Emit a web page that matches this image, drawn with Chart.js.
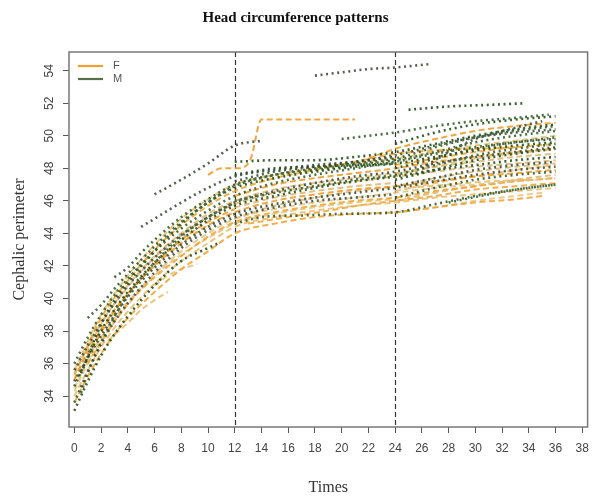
<!DOCTYPE html>
<html>
<head>
<meta charset="utf-8">
<script src="https://cdn.jsdelivr.net/npm/chart.js@4.4.1/dist/chart.umd.min.js"></script>
<style>
  html, body { margin: 0; padding: 0; background: #fff; }
</style>
</head>
<body>
<canvas id="chart" width="597" height="499"></canvas>
<script>
// axis ticks and limits
const xTickValues = [0,2,4,6,8,10,12,14,16,18,20,22,24,26,28,30,32,34,36,38];
const yTickValues = [34,36,38,40,42,44,46,48,50,52,54];
const markerTimes = [12, 24];

// one curve per child: [time (months), head circumference (cm)]
const femaleCurves = [
  [[0,33.6],[1,35.2],[2,36.6],[3,37.8],[4,38.8],[6,40.4],[8,41.8],[10,42.9],[12,44.0],[15,44.6],[18,45.0],[21,45.2],[24,45.3],[27,45.6],[30,45.9],[33,46.1],[35,46.3]],
  [[0,34.0],[1,35.6],[2,37.0],[3,38.2],[4,39.2],[6,40.9],[8,42.3],[10,43.4],[12,44.4],[15,45.0],[18,45.4],[21,45.7],[24,45.9],[27,46.2],[30,46.4],[33,46.6],[36,46.8]],
  [[0,34.5],[1,36.2],[2,37.6],[3,38.8],[4,39.8],[6,41.5],[8,42.9],[10,44.0],[12,44.9],[15,45.5],[18,45.9],[21,46.2],[24,46.5],[27,46.8],[30,47.0],[33,47.2],[36,47.4]],
  [[0,35.0],[1,36.7],[2,38.1],[3,39.3],[4,40.3],[6,42.0],[8,43.4],[10,44.5],[12,45.3],[15,46.0],[18,46.4],[21,46.7],[24,46.9],[27,47.2],[30,47.5],[33,47.7],[36,47.9]],
  [[0,35.4],[2,38.5],[4,40.7],[6,42.5],[8,43.9],[10,45.0],[12,45.8],[15,46.5],[18,46.9],[21,47.2],[24,47.5],[27,47.8],[30,48.1],[33,48.3],[36,48.5]],
  [[1,36.0],[2,37.3],[3,38.6],[4,39.7],[6,41.3],[8,42.6],[10,43.8],[12,44.7],[15,45.3],[18,45.7],[21,46.0],[24,46.2],[27,46.6],[30,46.9],[33,47.2],[36,47.4]],
  [[2.5,37.4],[4,38.5],[5,39.3],[6,39.9],[7,40.4]],
  [[6,40.8],[7,41.4],[8,41.8],[9.2,42.1]],
  [[10,47.6],[11,48.0],[12.3,48.0],[13.2,48.6],[14,51.0],[21,51.0]],
  [[0,35.0],[1,36.9],[2,38.4],[3,39.7],[4,40.8],[6,42.6],[8,44.0],[10,45.2],[12,46.0],[15,46.7],[18,47.1],[21,47.4],[24,47.7],[27,48.1],[30,48.4],[33,48.7],[36,48.9]],
  [[0,35.3],[2,38.8],[4,41.1],[6,43.0],[8,44.5],[10,45.7],[12,46.6],[15,47.4],[18,47.9],[21,48.4],[24,48.9],[27,49.1],[30,49.2],[33,49.3]],
  [[0,35.6],[2,39.0],[4,41.4],[6,43.3],[8,44.9],[10,46.1],[12,47.0],[15,47.6],[18,48.0],[21,48.3],[24,48.6],[27,49.0],[30,49.4],[33,49.7],[36,50.0]],
  [[24,45.3],[27,45.6],[30,46.0],[33,46.3],[35,46.5]],
  [[22,48.6],[24,49.2],[27,49.8],[30,50.3],[33,50.6],[36,50.8]],
  [[12,45.6],[15,46.2],[18,46.6],[21,46.9],[24,47.1]],
  [[13,44.6],[16,45.0],[19,45.4],[22,45.8],[24,46.0],[27,46.3],[30,46.7],[33,46.9],[36,47.1]],
  [[24,46.6],[27,47.1],[30,47.5],[33,47.9],[36,48.2]],
  [[24,47.6],[27,48.1],[30,48.6],[33,48.9],[36,49.2]],
  [[1,36.4],[2,37.9],[3,39.2],[4,40.3],[6,42.1],[8,43.6],[10,44.7],[12,45.5]],
  [[12,44.9],[15,45.7],[18,46.2],[21,46.6],[24,46.9],[27,47.4],[30,47.8],[33,48.1],[36,48.3]],
  [[24,48.2],[27,48.6],[30,49.0],[33,49.3],[36,49.5]],
  [[25,46.8],[28,47.0],[31,47.2],[34,47.3]],
  [[0,34.3],[1,36.0],[2,37.4],[4,39.6],[6,41.4],[8,42.7],[10,43.7],[12,44.6],[15,45.2],[18,45.6],[21,45.9],[24,46.1]],
  [[12,46.3],[15,47.0],[18,47.4],[21,47.7],[24,48.0],[27,48.4],[30,48.7],[33,49.0],[36,49.2]],
  [[24,46.0],[27,46.5],[30,46.9],[33,47.3],[36,47.6]]
];

const maleCurves = [
  [[0,33.1],[1,34.9],[2,36.5],[3,37.8],[4,38.9],[6,40.8],[8,42.3],[10,43.1],[10.8,43.4]],
  [[0,36.0],[1,37.6],[2,39.0],[3,40.2],[4,41.2],[6,42.9],[8,44.3],[10,45.4],[12,46.3],[15,47.1],[18,47.6],[21,48.0],[24,48.4],[27,48.9],[30,49.3],[33,49.6],[36,49.9]],
  [[0,35.6],[1,37.1],[2,38.5],[3,39.7],[4,40.8],[6,42.5],[8,43.9],[10,45.0],[12,45.9],[15,46.6],[18,47.1],[21,47.5],[24,47.8],[27,48.3],[30,48.7],[33,49.0],[36,49.3]],
  [[0,34.6],[1,36.4],[2,38.0],[3,39.3],[4,40.4],[6,42.2],[8,43.6],[10,44.8],[12,45.7],[15,46.3],[18,46.8],[21,47.2],[24,47.5],[27,47.9],[30,48.2],[33,48.5],[36,48.7]],
  [[1,38.8],[2,39.6],[3,40.6],[4,41.5],[6,43.2],[8,44.7],[10,45.9],[12,46.9],[15,47.6],[18,48.0],[21,48.3],[24,48.6],[27,49.3],[30,49.9],[33,50.3],[36,50.6]],
  [[6,46.4],[8,47.3],[10,48.3],[12,49.4],[14,49.7]],
  [[12,48.4],[15,48.5],[18,48.5],[21,48.7],[24,49.0],[27,49.5],[30,50.0],[33,50.4],[36,50.7]],
  [[20,49.8],[22,50.0],[24,50.2],[27,50.6],[30,50.9],[33,51.1],[35.5,51.3]],
  [[18,53.7],[20,53.9],[22,54.1],[24,54.2],[26.5,54.4]],
  [[25,51.6],[28,51.8],[31,51.9],[33.7,52.0]],
  [[12,44.6],[14,45.0],[17,45.1],[20,45.2],[24,45.3],[27,45.8],[30,46.3],[33,46.7],[36,47.0]],
  [[0,34.9],[2,37.7],[4,40.1],[6,41.9],[8,43.3],[10,44.4],[12,45.2],[15,45.8],[18,46.2],[21,46.5],[24,46.8],[27,47.2],[30,47.6],[33,47.9],[36,48.1]],
  [[0.5,35.4],[2,38.4],[3,39.9],[4,41.0],[6,42.9],[8,44.6],[10,45.9],[12,46.8],[15,47.4],[18,47.8],[21,48.1],[24,48.3],[27,48.7],[30,49.1],[33,49.4],[36,49.6]],
  [[3,41.3],[4,41.9],[5,42.8],[6,43.6],[8,45.0],[10,46.1],[12,47.0],[15,47.6],[18,47.9],[21,48.2],[24,48.5],[27,49.0],[30,49.6],[33,50.0],[36,50.3]],
  [[5,44.4],[6,44.9],[8,45.9],[10,46.8],[12,47.5],[15,47.9],[18,48.2],[21,48.4],[24,48.7]],
  [[24,47.3],[27,47.9],[30,48.5],[33,48.9],[36,49.2]],
  [[24,46.2],[27,46.8],[30,47.3],[33,47.6],[36,47.8]],
  [[26,48.0],[28,49.0],[30,49.8],[33,50.5],[35,50.9]],
  [[12,47.6],[15,48.0],[18,48.1],[21,48.2],[24,48.3]],
  [[12,46.0],[15,46.5],[18,46.9],[21,47.3],[24,47.6],[27,48.2],[30,48.8],[33,49.2],[36,49.5]],
  [[0,33.6],[1,35.5],[2,37.2],[3,38.6],[4,39.7],[6,41.6],[8,43.1],[10,44.2],[12,45.0],[15,45.6],[18,46.0],[21,46.2],[24,46.4]],
  [[24,49.5],[27,50.2],[30,50.7],[33,51.0],[36,51.2]],
  [[28,45.9],[31,46.4],[34,46.8],[36,47.0]],
  [[12,47.2],[15,47.8],[18,48.1],[21,48.4],[24,48.8],[27,49.4],[30,49.9],[33,50.2],[36,50.4]],
  [[24,48.0],[27,48.6],[30,49.2],[33,49.6],[36,49.8]],
  [[0.5,34.2],[1,35.4],[2,37.3],[3,38.9],[4,40.2],[6,42.2],[8,43.8],[10,45.0],[12,45.9]],
  [[24,46.9],[27,47.4],[30,47.9],[33,48.2],[36,48.4]]
];

const fColors = ["rgba(240,160,40,0.85)","rgba(228,182,96,0.8)","rgba(224,192,124,0.8)","rgba(238,150,30,0.85)","rgba(218,176,102,0.8)"];
const mColors = ["rgba(38,80,24,0.9)","rgba(52,92,38,0.88)","rgba(58,76,54,0.88)"];
const legendF = "#F0A030";
const legendM = "#557045";

const toPoints = c => c.map(([x, y]) => ({ x, y }));

const datasets = [];
maleCurves.forEach((c, i) => datasets.push({
  label: "M",
  data: toPoints(c),
  borderColor: mColors[i % mColors.length],
  borderWidth: 2.6,
  borderDash: [2, 3.6],
  pointRadius: 0,
  cubicInterpolationMode: "monotone",
  fill: false
}));
femaleCurves.forEach((c, i) => datasets.push({
  label: "F",
  data: toPoints(c),
  borderColor: fColors[i % fColors.length],
  borderWidth: 2,
  borderDash: [6, 3.5],
  pointRadius: 0,
  cubicInterpolationMode: "monotone",
  fill: false
}));

// dashed vertical reference lines, box and legend
const decor = {
  id: "decor",
  beforeDatasetsDraw(chart){
    const {ctx, chartArea: a, scales: {x}} = chart;
    ctx.save();
    ctx.strokeStyle = "#333";
    ctx.lineWidth = 1.2;
    ctx.setLineDash([5, 3]);
    markerTimes.forEach(t=>{
      const px = Math.round(x.getPixelForValue(t)) + 0.5;
      ctx.beginPath();
      ctx.moveTo(px, a.top);
      ctx.lineTo(px, a.bottom);
      ctx.stroke();
    });
    ctx.restore();
  },
  afterDraw(chart){
    const {ctx, chartArea: a} = chart;
    ctx.save();
    ctx.strokeStyle = "#777";
    ctx.lineWidth = 1.5;
    ctx.strokeRect(a.left, a.top, a.right - a.left, a.bottom - a.top);

    const items = [["F", legendF], ["M", legendM]];
    ctx.font = "11px 'Liberation Sans', Arial, sans-serif";
    ctx.textBaseline = "middle";
    items.forEach(([lab, col], i)=>{
      const y = a.top + 14 + i * 13;
      ctx.strokeStyle = col;
      ctx.lineWidth = 2.2;
      ctx.beginPath();
      ctx.moveTo(a.left + 9, y);
      ctx.lineTo(a.left + 34, y);
      ctx.stroke();
      ctx.fillStyle = "#555";
      ctx.fillText(lab, a.left + 44, y);
    });
    ctx.restore();
  }
};

new Chart(document.getElementById("chart"), {
  type: "line",
  data: { datasets },
  options: {
    responsive: false,
    animation: false,
    layout: { padding: { right: 6 } },
    plugins: {
      legend: { display: false },
      tooltip: { enabled: false },
      title: {
        display: true,
        text: "Head circumference patterns",
        color: "#111",
        font: { family: "'Liberation Serif', 'Times New Roman', serif", size: 15, weight: "bold" },
        padding: { top: 9, bottom: 25 }
      }
    },
    scales: {
      x: {
        type: "linear",
        min: -0.4,
        max: 38.4,
        afterBuildTicks: s => { s.ticks = xTickValues.map(v => ({ value: v })); },
        afterFit: s => { s.height = 72; },
        border: { display: false },
        grid: { drawOnChartArea: false, drawTicks: true, tickLength: 6, color: "#555" },
        ticks: {
          color: "#444",
          padding: 8,
          maxRotation: 0,
          autoSkip: false,
          font: { family: "'Liberation Sans', Arial, sans-serif", size: 12 }
        },
        title: {
          display: true,
          text: "Times",
          color: "#333",
          font: { family: "'Liberation Serif', 'Times New Roman', serif", size: 16 },
          padding: { top: 0, bottom: 2 }
        }
      },
      y: {
        min: 32.1,
        max: 55.15,
        afterBuildTicks: s => { s.ticks = yTickValues.map(v => ({ value: v })); },
        afterFit: s => { s.width = 69; },
        border: { display: false },
        grid: { drawOnChartArea: false, drawTicks: true, tickLength: 6, color: "#555" },
        ticks: {
          color: "#444",
          padding: 7,
          minRotation: 90,
          maxRotation: 90,
          crossAlign: "center",
          autoSkip: false,
          font: { family: "'Liberation Sans', Arial, sans-serif", size: 12 }
        },
        title: {
          display: true,
          text: "Cephalic perimeter",
          color: "#333",
          font: { family: "'Liberation Serif', 'Times New Roman', serif", size: 16 },
          padding: { top: 10, bottom: 0 }
        }
      }
    }
  },
  plugins: [decor]
});
</script>
</body>
</html>
